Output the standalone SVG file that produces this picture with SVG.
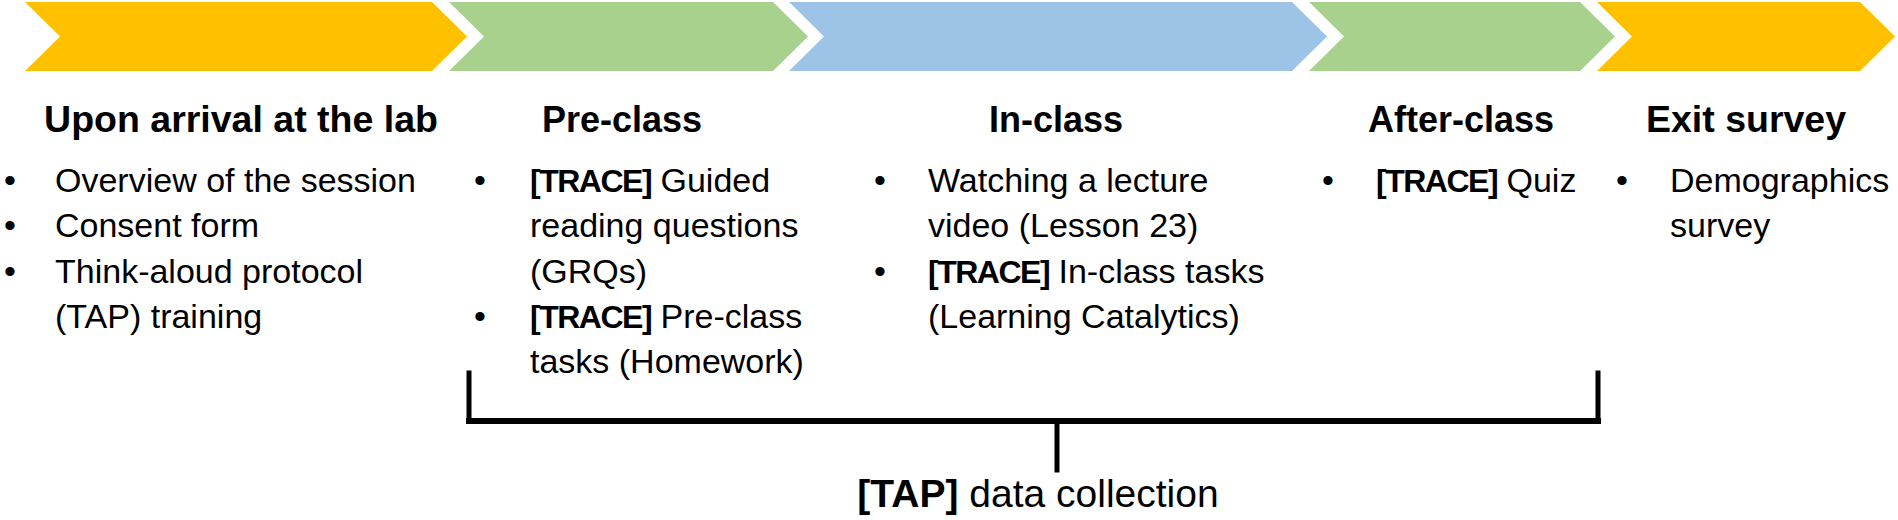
<svg xmlns="http://www.w3.org/2000/svg" width="1898" height="520" viewBox="0 0 1898 520">
  <style>
    .t { font-family: "Liberation Sans", Arial, sans-serif; fill: #000; }
    .title { font-size: 36px; font-weight: bold; text-anchor: middle; }
    .wide { font-size: 37.5px; }
    .body { font-size: 34px; }
    .bul { font-size: 34px; text-anchor: middle; }
    .b { font-weight: bold; }
    .tr { font-weight: bold; font-size: 32px; letter-spacing: -1.5px; }
    .orange { fill: #FFC000; }
    .green { fill: #A9D18E; }
    .blue { fill: #9DC3E6; }
    .br { stroke: #000; fill: none; stroke-linecap: square; }
  </style>
  <rect width="1898" height="520" fill="#fff"/>

  <g id="stage-arrival">
    <polygon class="orange" points="25,2 432,2 467,36.5 432,71 25,71 60,36.5"/>
    <text class="t title wide" x="241" y="132">Upon arrival at the lab</text>
    <text class="t bul" x="10" y="192">•</text>
    <text class="t body" x="55" y="192">Overview of the session</text>
    <text class="t bul" x="10" y="237">•</text>
    <text class="t body" x="55" y="237">Consent form</text>
    <text class="t bul" x="10" y="283">•</text>
    <text class="t body" x="55" y="283">Think-aloud protocol</text>
    <text class="t body" x="55" y="328">(TAP) training</text>
  </g>

  <g id="stage-preclass">
    <polygon class="green" points="449,2 773,2 808,36.5 773,71 449,71 484,36.5"/>
    <text class="t title" x="622" y="132">Pre-class</text>
    <text class="t bul" x="480" y="192">•</text>
    <text class="t body" x="530" y="192"><tspan class="tr">[TRACE]</tspan> Guided</text>
    <text class="t body" x="530" y="237">reading questions</text>
    <text class="t body" x="530" y="283">(GRQs)</text>
    <text class="t bul" x="480" y="328">•</text>
    <text class="t body" x="530" y="328"><tspan class="tr">[TRACE]</tspan> Pre-class</text>
    <text class="t body" x="530" y="373">tasks (Homework)</text>
  </g>

  <g id="stage-inclass">
    <polygon class="blue" points="789,2 1292,2 1327,36.5 1292,71 789,71 824,36.5"/>
    <text class="t title" x="1056" y="132">In-class</text>
    <text class="t bul" x="880" y="192">•</text>
    <text class="t body" x="928" y="192">Watching a lecture</text>
    <text class="t body" x="928" y="237">video (Lesson 23)</text>
    <text class="t bul" x="880" y="283">•</text>
    <text class="t body" x="928" y="283"><tspan class="tr">[TRACE]</tspan> In-class tasks</text>
    <text class="t body" x="928" y="328">(Learning Catalytics)</text>
  </g>

  <g id="stage-afterclass">
    <polygon class="green" points="1309,2 1580,2 1615,36.5 1580,71 1309,71 1344,36.5"/>
    <text class="t title" x="1461" y="132">After-class</text>
    <text class="t bul" x="1328" y="192">•</text>
    <text class="t body" x="1376" y="192"><tspan class="tr">[TRACE]</tspan> Quiz</text>
  </g>

  <g id="stage-exit">
    <polygon class="orange" points="1597,2 1860,2 1895,36.5 1860,71 1597,71 1632,36.5"/>
    <text class="t title wide" x="1746" y="132">Exit survey</text>
    <text class="t bul" x="1622" y="192">•</text>
    <text class="t body" x="1670" y="192">Demographics</text>
    <text class="t body" x="1670" y="237">survey</text>
  </g>

  <g id="connectors">
    <path class="br" stroke-width="5" d="M469,373 V421"/>
    <path class="br" stroke-width="5" d="M1598,373 V421"/>
    <path class="br" stroke-width="6" d="M469,421 H1598"/>
    <path class="br" stroke-width="5" d="M1057,421 V470"/>
  </g>

  <g id="tap-label">
    <text class="t" x="1038" y="507" font-size="39" text-anchor="middle"><tspan class="b">[TAP]</tspan> data collection</text>
  </g>
</svg>
